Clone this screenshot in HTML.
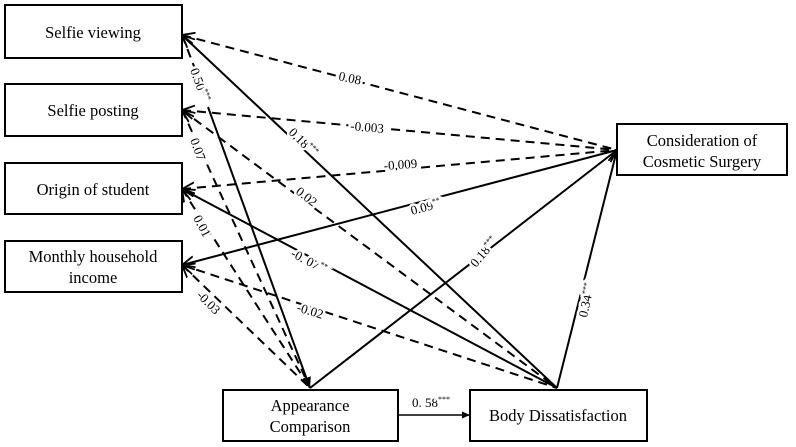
<!DOCTYPE html>
<html><head><style>body{margin:0;background:#fff}svg{display:block}text{font-family:"Liberation Serif",serif;fill:#000}</style></head>
<body>
<svg width="796" height="447" viewBox="0 0 796 447" xmlns="http://www.w3.org/2000/svg">
<defs><marker id="a" viewBox="0 0 10 10" refX="9" refY="5" markerWidth="7" markerHeight="7" orient="auto-start-reverse"><path d="M0,1 L9,5 L0,9" fill="none" stroke="#000" stroke-width="1.3"/></marker>
<marker id="f" viewBox="0 0 10 10" refX="9" refY="5" markerWidth="6" markerHeight="6" orient="auto"><path d="M0,1 L9,5 L0,9z" fill="#000"/></marker></defs>
<g stroke="#000" stroke-width="2" fill="none">
<line x1="182" y1="35" x2="617" y2="150" stroke-dasharray="9,6" marker-start="url(#a)"/>
<line x1="182" y1="110" x2="617" y2="150" stroke-dasharray="9,6" marker-start="url(#a)"/>
<line x1="182" y1="189" x2="617" y2="150" stroke-dasharray="9,6" marker-start="url(#a)"/>
<line x1="182" y1="265" x2="617" y2="150" marker-start="url(#a)"/>
<line x1="182" y1="35" x2="205" y2="95" stroke-dasharray="9,6" marker-start="url(#a)"/>
<line x1="208" y1="107" x2="310" y2="388" marker-end="url(#f)"/>
<line x1="182" y1="35" x2="557" y2="388" marker-start="url(#a)"/>
<line x1="182" y1="110" x2="310" y2="388" stroke-dasharray="9,6" marker-start="url(#a)"/>
<line x1="182" y1="110" x2="557" y2="388" stroke-dasharray="9,6" marker-start="url(#a)"/>
<line x1="182" y1="189" x2="310" y2="388" stroke-dasharray="9,6" marker-start="url(#a)"/>
<line x1="182" y1="189" x2="557" y2="388" marker-start="url(#a)"/>
<line x1="182" y1="265" x2="310" y2="388" stroke-dasharray="9,6" marker-start="url(#a)"/>
<line x1="182" y1="265" x2="557" y2="388" stroke-dasharray="9,6" marker-start="url(#a)"/>
<line x1="310" y1="388" x2="617" y2="150" marker-end="url(#a)"/>
<line x1="557" y1="388" x2="617" y2="150" marker-end="url(#a)"/>
<line x1="398" y1="415" x2="470" y2="415" stroke-width="1.5" marker-end="url(#f)"/>
</g>
<g fill="#fff" stroke="#000" stroke-width="2">
<rect x="5" y="5" width="177" height="53"/><rect x="5" y="84" width="177" height="52"/>
<rect x="5" y="163" width="177" height="51"/><rect x="5" y="241" width="177" height="51"/>
<rect x="223" y="390" width="175" height="51"/><rect x="470" y="390" width="177" height="51"/>
<rect x="617" y="124" width="170" height="51"/>
</g>
<g font-size="16.5" text-anchor="middle">
<text x="93" y="38">Selfie viewing</text><text x="93" y="116">Selfie posting</text>
<text x="93" y="195">Origin of student</text><text x="93" y="262">Monthly household</text><text x="93" y="283">income</text>
<text x="310" y="411">Appearance</text><text x="310" y="432">Comparison</text>
<text x="558" y="421">Body Dissatisfaction</text>
<text x="702" y="146">Consideration of</text><text x="702" y="167">Cosmetic Surgery</text>
</g>
<g font-size="13" stroke="#fff" stroke-width="5" paint-order="stroke">
<text x="338" y="80" transform="rotate(12 338 80)">0.08</text>
<text x="350" y="130" transform="rotate(5 350 130)">-0.003</text>
<text x="384" y="170" transform="rotate(-4 384 170)">-0.009</text>
<text x="412" y="215" transform="rotate(-15 412 215)">0.09<tspan font-size="8" dy="-5">**</tspan></text>
<text x="190" y="70" transform="rotate(70 190 70)">0.50<tspan font-size="8" dy="-5">***</tspan></text>
<text x="288" y="133" transform="rotate(45 288 133)">0.18<tspan font-size="8" dy="-5">***</tspan></text>
<text x="190" y="140" transform="rotate(70 190 140)">0.07</text>
<text x="295" y="193" transform="rotate(38 295 193)">0.02</text>
<text x="193" y="218" transform="rotate(62 193 218)">0.01</text>
<text x="290" y="256" transform="rotate(28 290 256)">-0. 07<tspan font-size="8" dy="-5">**</tspan></text>
<text x="196" y="296" transform="rotate(45 196 296)">-0.03</text>
<text x="296" y="311" transform="rotate(17 296 311)">-0.02</text>
<text x="476" y="268" transform="rotate(-50 476 268)">0.18<tspan font-size="8" dy="-5">***</tspan></text>
<text x="587" y="318" transform="rotate(-78 587 318)">0.34<tspan font-size="8" dy="-5">***</tspan></text>
<text x="412" y="407">0. 58<tspan font-size="8" dy="-5">***</tspan></text>
</g>
</svg>
</body></html>
